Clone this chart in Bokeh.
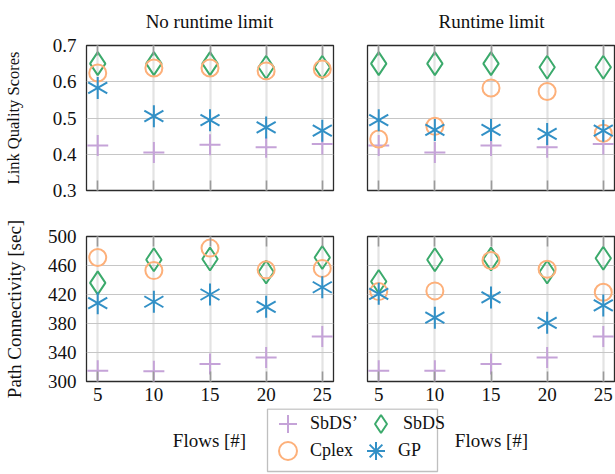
import math
from bokeh.plotting import figure
from bokeh.models import (FixedTicker, LinearAxis, Range1d, Legend, LegendItem, Label,
                          BoxAnnotation)
from bokeh.layouts import column, row
from bokeh.embed import file_html
from bokeh.resources import INLINE

# ---------------- data ----------------
flows = [5, 10, 15, 20, 25]
x_ticks = [5, 10, 15, 20, 25]
lq_ticks = [0.3, 0.4, 0.5, 0.6, 0.7]
pc_ticks = [300, 340, 380, 420, 460, 500]

# Link Quality Scores, no runtime limit
lq_free_sbds_p = [0.424, 0.405, 0.426, 0.419, 0.428]
lq_free_sbds = [0.650, 0.650, 0.650, 0.640, 0.640]
lq_free_cplex = [0.624, 0.638, 0.638, 0.630, 0.635]
lq_free_gp = [0.583, 0.505, 0.494, 0.474, 0.465]

# Link Quality Scores, runtime limit
lq_lim_sbds_p = [0.424, 0.405, 0.424, 0.419, 0.428]
lq_lim_sbds = [0.650, 0.650, 0.650, 0.640, 0.640]
lq_lim_cplex = [0.442, 0.477, 0.583, 0.573, 0.458]
lq_lim_gp = [0.494, 0.467, 0.467, 0.456, 0.465]

# Path Connectivity [sec], no runtime limit
pc_free_sbds_p = [315, 314, 324, 333, 362]
pc_free_sbds = [436, 468, 469, 451, 471]
pc_free_cplex = [471, 453, 484, 454, 456]
pc_free_gp = [408, 410, 420, 403, 430]

# Path Connectivity [sec], runtime limit
pc_lim_sbds_p = [315, 315, 324, 333, 362]
pc_lim_sbds = [438, 468, 469, 451, 470]
pc_lim_cplex = [424, 425, 467, 455, 423]
pc_lim_gp = [421, 388, 416, 381, 405]

series_names = ["SbDS\u2019", "SbDS", "Cplex", "GP"]
panel_titles = ["No runtime limit", "Runtime limit"]
x_title = "Flows [#]"

# ---------------- style ----------------
FONT = "Liberation Serif"
TXT = "#111111"
C_PURPLE = "#c5a3d8"
C_GREEN = "#3caa6c"
C_ORANGE = "#fdb07a"
C_BLUE = "#3290c6"
LW = 2
STAR_ANGLES = (math.pi / 2, math.pi / 6, -math.pi / 6)
COL_CENTERS = (209, 491)   # horizontal centres of the two panel columns (px)


def draw_series(p, sp, sb, cp, gp):
    p.scatter(flows, sp, marker="cross", size=21, line_color=C_PURPLE,
              line_width=LW, fill_color=None)
    p.scatter(flows, sb, marker="diamond", size=23, line_color=C_GREEN,
              line_width=LW, fill_color=None)
    p.scatter(flows, cp, marker="circle", size=17, line_color=C_ORANGE,
              line_width=LW, fill_color=None)
    for a in STAR_ANGLES:
        p.scatter(flows, gp, marker="dash", size=22, angle=a, line_color=C_BLUE,
                  line_width=LW)


def hide_labels(ax):
    ax.major_label_text_color = None
    ax.major_label_text_font_size = "0px"
    ax.major_label_standoff = 0


def panel(width, height, yr, yticks, left, right, top, bottom,
          xlabels=False, ylabel=None, ylabel_size="19px", ylabel_standoff=20):
    p = figure(width=width, height=height, x_range=Range1d(4, 26), y_range=Range1d(*yr),
               output_backend="svg", toolbar_location=None,
               min_border_left=left, min_border_right=right,
               min_border_top=top, min_border_bottom=bottom)
    p.outline_line_color = "#2b2b2b"
    p.outline_line_width = 1.3
    p.background_fill_color = "white"
    p.border_fill_color = "white"

    xa = p.xaxis[0]
    xa.ticker = FixedTicker(ticks=x_ticks)
    xa.major_tick_in = 10
    xa.major_tick_out = 0
    xa.minor_tick_line_color = None
    xa.major_tick_line_color = "#9a9a9a"
    xa.major_tick_line_width = 1.6
    xa.axis_line_color = None
    if xlabels:
        xa.major_label_text_font = FONT
        xa.major_label_text_font_size = "19px"
        xa.major_label_text_color = TXT
        xa.major_label_standoff = 6
    else:
        hide_labels(xa)

    top_ax = LinearAxis(ticker=FixedTicker(ticks=x_ticks), major_tick_in=10, major_tick_out=0,
                        minor_tick_line_color=None, major_tick_line_color="#9a9a9a",
                        major_tick_line_width=1.6, axis_line_color=None)
    hide_labels(top_ax)
    p.add_layout(top_ax, "above")

    ya = p.yaxis[0]
    ya.ticker = FixedTicker(ticks=yticks)
    if ylabel:
        ya.major_tick_in = 0
        ya.major_tick_out = 0
        ya.minor_tick_line_color = None
        ya.axis_line_color = None
        ya.major_label_text_font = FONT
        ya.major_label_text_font_size = "19px"
        ya.major_label_text_color = TXT
        ya.major_label_standoff = 10
        ya.axis_label = ylabel
        ya.axis_label_text_font = FONT
        ya.axis_label_text_font_size = ylabel_size
        ya.axis_label_text_font_style = "normal"
        ya.axis_label_text_color = TXT
        ya.axis_label_standoff = ylabel_standoff
    else:
        ya.visible = False

    p.xgrid.ticker = FixedTicker(ticks=x_ticks)
    p.ygrid.ticker = FixedTicker(ticks=yticks)
    p.xgrid.grid_line_color = "#e3e3e3"
    p.xgrid.grid_line_width = 2.2
    p.ygrid.grid_line_color = "#c6c6c6"
    p.ygrid.grid_line_width = 1.2
    return p


def strip(height):
    s = figure(width=615, height=height, x_range=Range1d(0, 1), y_range=Range1d(0, 1),
               x_axis_type=None, y_axis_type=None, output_backend="svg",
               toolbar_location=None, min_border=0)
    s.outline_line_color = None
    s.grid.visible = False
    return s


LQ_RANGE = (0.3, 0.7)
PC_RANGE = (300, 500)

# ---------------- top strip: column titles ----------------
HEAD_H = 33
head = strip(HEAD_H)
for cx, t in zip(COL_CENTERS, panel_titles):
    head.add_layout(Label(x=cx, y=HEAD_H - 21, x_units="screen", y_units="screen", text=t,
                          text_align="center", text_baseline="alphabetic", text_font=FONT,
                          text_font_size="19px", text_color=TXT))

tl = panel(350, 213 - HEAD_H, LQ_RANGE, lq_ticks, 85, 17, 45 - HEAD_H, 23,
           ylabel="Link Quality Scores", ylabel_size="16.5px", ylabel_standoff=27)
tr = panel(265, 213 - HEAD_H, LQ_RANGE, lq_ticks, 17, 1, 45 - HEAD_H, 23)
bl = panel(350, 195, PC_RANGE, pc_ticks, 85, 17, 23, 27, xlabels=True,
           ylabel="Path Connectivity [sec]", ylabel_size="19px", ylabel_standoff=20)
br = panel(265, 195, PC_RANGE, pc_ticks, 17, 1, 23, 27, xlabels=True)

draw_series(tl, lq_free_sbds_p, lq_free_sbds, lq_free_cplex, lq_free_gp)
draw_series(tr, lq_lim_sbds_p, lq_lim_sbds, lq_lim_cplex, lq_lim_gp)
draw_series(bl, pc_free_sbds_p, pc_free_sbds, pc_free_cplex, pc_free_gp)
draw_series(br, pc_lim_sbds_p, pc_lim_sbds, pc_lim_cplex, pc_lim_gp)

# ---------------- bottom strip: x-axis titles and legend ----------------
lg = strip(66)

# legend swatch renderers (their single point lies outside the strip's ranges)
hx, hy = [-5], [-5]
r_sp = lg.scatter(hx, hy, marker="cross", size=21, line_color=C_PURPLE, line_width=LW)
r_sb = lg.scatter(hx, hy, marker="diamond", size=23, line_color=C_GREEN,
                  line_width=LW, fill_color=None)
r_cp = lg.scatter(hx, hy, marker="circle", size=17, line_color=C_ORANGE,
                  line_width=LW, fill_color=None)
r_gp = lg.scatter(hx, hy, marker="asterisk", size=22, line_color=C_BLUE, line_width=LW)

lg.add_layout(BoxAnnotation(left=267, right=437, bottom=3, top=65.5,
                            left_units="screen", right_units="screen",
                            bottom_units="screen", top_units="screen",
                            fill_color="white", fill_alpha=1.0,
                            line_color="#2b2b2b", line_width=1.3))

common = dict(orientation="horizontal", glyph_width=45, glyph_height=45, label_height=20,
              label_standoff=-10, padding=0, margin=0, border_line_color=None,
              background_fill_alpha=0.0, label_text_font=FONT,
              label_text_font_size="18px", label_text_color=TXT)
leg_top = Legend(items=[LegendItem(label=series_names[0], renderers=[r_sp]),
                        LegendItem(label=series_names[1], renderers=[r_sb])],
                 location=(265, 28), spacing=-5, **common)
leg_bot = Legend(items=[LegendItem(label=series_names[2], renderers=[r_cp]),
                        LegendItem(label=series_names[3], renderers=[r_gp])],
                 location=(265, 1), spacing=0, **common)
lg.add_layout(leg_top)
lg.add_layout(leg_bot)

for cx in COL_CENTERS:
    lg.add_layout(Label(x=cx, y=34, x_units="screen", y_units="screen", text=x_title,
                        text_align="center", text_baseline="middle", text_font=FONT,
                        text_font_size="19px", text_color=TXT))

layout = column(head, row(tl, tr), row(bl, br), lg)

with open("out.html", "w") as f:
    f.write(file_html(layout, INLINE))
